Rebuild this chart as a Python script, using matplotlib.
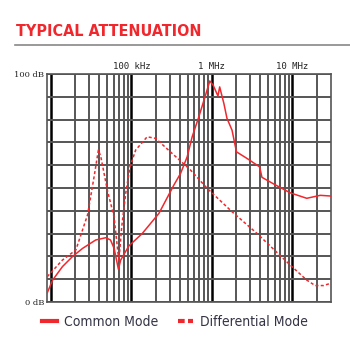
import matplotlib.pyplot as plt
from matplotlib.lines import Line2D
from matplotlib import font_manager

# common mode attenuation (solid)
cm_freq = [9e3, 10.5e3, 13.9e3, 18.5e3, 24.7e3, 36e3, 48e3, 55e3, 61e3, 69e3, 73.6e3,
           93e3, 136e3, 220e3, 337e3, 408e3, 493e3, 569e3, 689e3, 834e3, 942e3,
           1.035e6, 1.19e6, 1.25e6, 1.41e6, 1.54e6, 1.78e6, 2.02e6, 2.73e6, 3.92e6,
           4.19e6, 5.85e6, 9.4e6, 15.1e6, 22.2e6, 30e6]
cm_db = [4, 9.6, 15.5, 19.9, 23.5, 27.2, 28.2, 27.2, 23.5, 14.3, 18.4,
         24.6, 30, 38.9, 51.3, 56.4, 63.7, 72.5, 81.3, 90.8, 97,
         95.2, 90.4, 94.4, 87.1, 80.6, 75.4, 65.9, 63, 59.3,
         54.7, 51.8, 47.9, 45.5, 46.8, 46.5]

# differential mode attenuation (dashed)
dm_freq = [9e3, 13.9e3, 20.4e3, 28.5e3, 34.4e3, 38.9e3, 41.7e3, 50.3e3, 60.8e3,
           68.2e3, 70e3, 75.8e3, 85e3, 96e3, 113e3, 157e3, 200e3, 337e3, 543e3,
           871e3, 1.78e6, 3.63e6, 9.4e6, 15.1e6, 19.2e6, 24.4e6, 30e6]
dm_db = [11.1, 18.4, 22.8, 38.2, 55, 66.7, 63.7, 49, 37.4,
         21.4, 18.4, 33, 47.7, 59.3, 66.7, 72.5, 71.8, 64.5, 57.9,
         49.9, 39.6, 30.1, 16.2, 9.6, 7.2, 7.2, 8.2]

x_ticks = [1e4, 1e5, 1e6, 1e7]
x_labels = ['', '100 kHz', '1 MHz', '10 MHz']
y_ticks = list(range(0, 101, 10))
y_labels = ['0 dB'] + [''] * 9 + ['100 dB']

red = '#f0282d'

# look for a narrow face for the title / legend
names = {f.name for f in font_manager.fontManager.ttflist}
cond = [f for f in font_manager.fontManager.ttflist
        if f.stretch in ('condensed', 'semi-condensed', 'extra-condensed')]
if 'Liberation Sans Narrow' in names:
    narrow = dict(family='Liberation Sans Narrow')
elif cond:
    narrow = dict(family=cond[0].name, stretch=cond[0].stretch)
else:
    narrow = dict(family='DejaVu Sans')

fig = plt.figure(figsize=(3.5, 3.37), dpi=100)
ax = fig.add_axes([0.135, 0.104, 0.81, 0.676])

ax.plot(cm_freq, cm_db, color=red, lw=1.1, zorder=3)
ax.plot(dm_freq, dm_db, color=red, lw=1.1, ls=(0, (2, 1.5)), zorder=3)

ax.set_xscale('log')
ax.set_xlim(9e3, 30e6)
ax.set_ylim(0, 100)

ax.set_xticks(x_ticks)
ax.set_xticklabels(x_labels, family='DejaVu Sans Mono', fontsize=6.5, color='#222222')
ax.set_xticks([m * d for d in [1e4, 1e5, 1e6, 1e7] for m in range(2, 10) if m * d < 30e6], minor=True)
ax.xaxis.set_ticks_position('top')
ax.tick_params(axis='x', which='both', length=0, pad=2)
ax.set_yticks(y_ticks)
ax.set_yticklabels(y_labels, family='DejaVu Serif', fontsize=6, color='#222222')
ax.tick_params(axis='y', length=0, pad=2)

ax.grid(True, axis='x', which='major', color='black', lw=1.8)
ax.grid(True, axis='x', which='minor', color='#3a3a3a', lw=1.2)
ax.grid(True, axis='y', which='major', color='#555555', lw=1.4)
for s in ax.spines.values():
    s.set_color('#555555')
    s.set_linewidth(1.2)

# title and rule
t = fig.text(0.045, 0.906, 'TYPICAL ATTENUATION', color=red, fontsize=14, fontweight='bold',
             va='center', **narrow)
fig.canvas.draw()
w = t.get_window_extent().width
if w > 190:
    t.set_fontsize(14 * 186 / w)
fig.add_artist(Line2D([0.043, 1.0], [0.866, 0.866], color='#888888', lw=1.2))

handles = [Line2D([], [], color=red, lw=3),
           Line2D([], [], color=red, lw=3, ls=(0, (1.6, 0.8)))]
leg_font = dict(narrow)
leg_font['size'] = 10
fig.legend(handles, ['Common Mode', 'Differential Mode'], loc='center',
           bbox_to_anchor=(0.5, 0.045), ncol=2, frameon=False, handlelength=1.1,
           handletextpad=0.5, columnspacing=1.4, prop=leg_font,
           labelcolor='#333344')

fig.savefig('out.png', dpi=100)
